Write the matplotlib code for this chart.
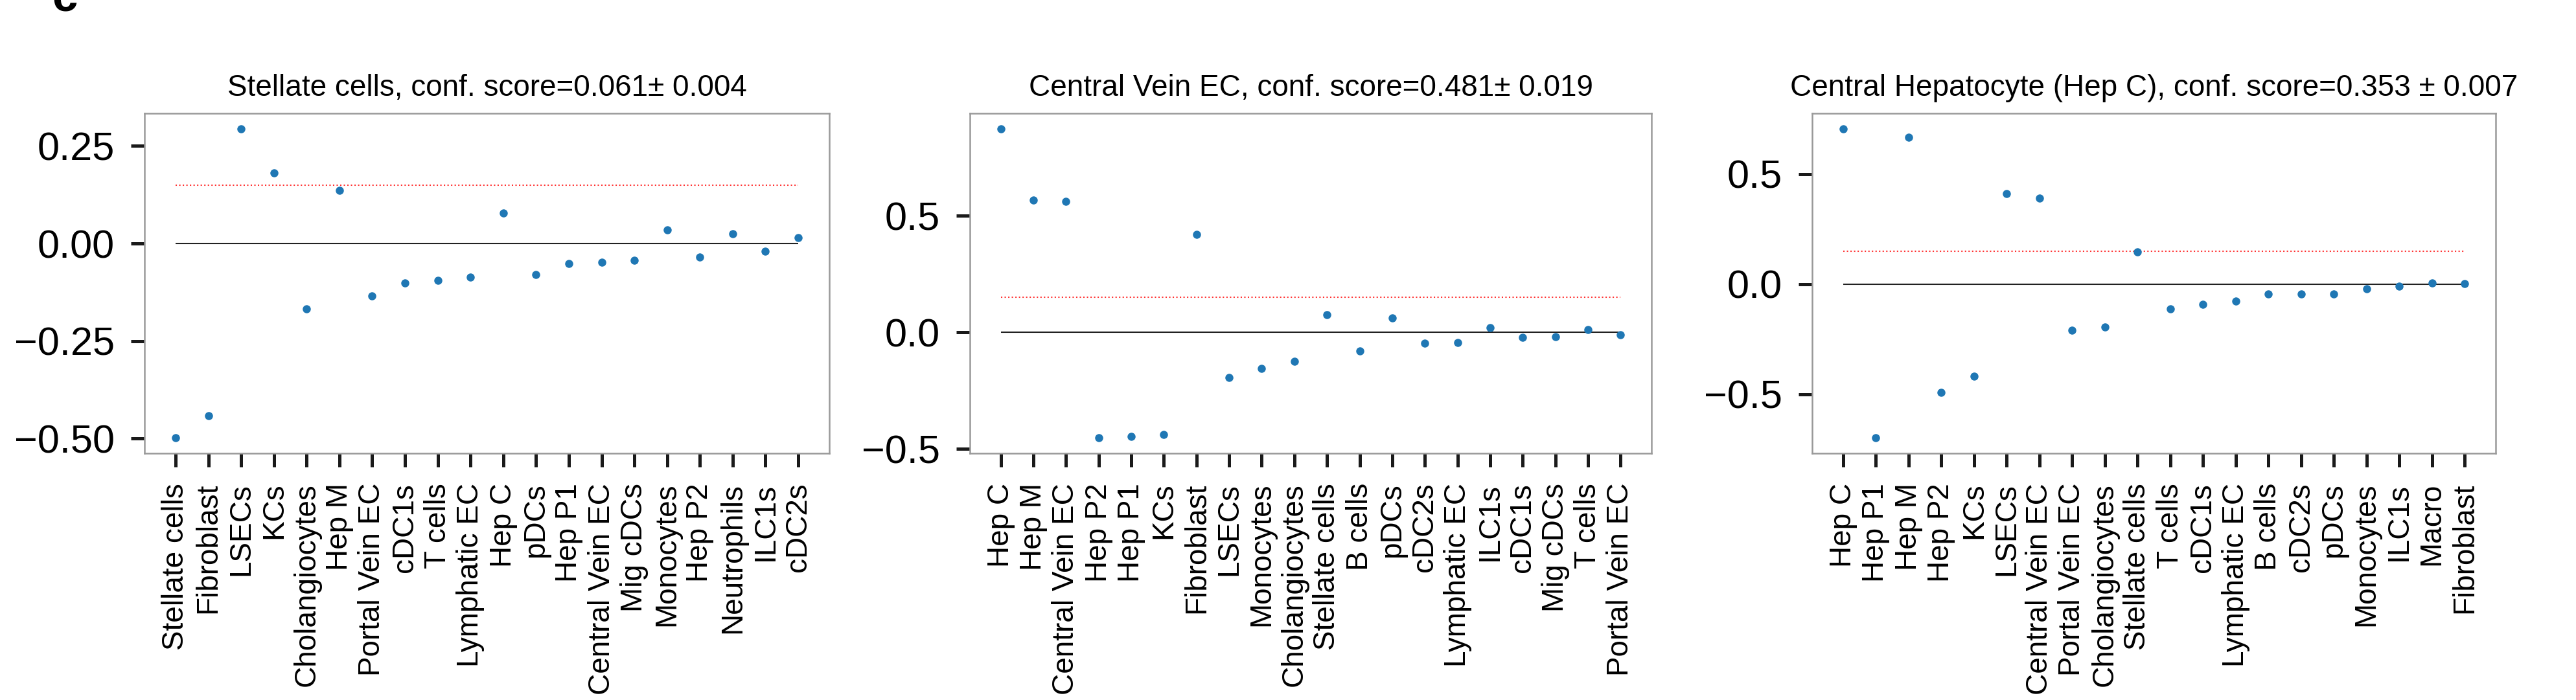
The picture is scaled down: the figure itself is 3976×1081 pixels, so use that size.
import matplotlib
matplotlib.use("Agg")
import matplotlib.pyplot as plt

plt.rcParams['font.family'] = ['Liberation Sans', 'DejaVu Sans']

# ---- data ----
titles = [
    "Stellate cells, conf. score=0.061\u00b1 0.004",
    "Central Vein EC, conf. score=0.481\u00b1 0.019",
    "Central Hepatocyte (Hep C), conf. score=0.353 \u00b1 0.007",
]

cats1 = ["Stellate cells", "Fibroblast", "LSECs", "KCs", "Cholangiocytes", "Hep M",
         "Portal Vein EC", "cDC1s", "T cells", "Lymphatic EC", "Hep C", "pDCs",
         "Hep P1", "Central Vein EC", "Mig cDCs", "Monocytes", "Hep P2",
         "Neutrophils", "ILC1s", "cDC2s"]
vals1 = [-0.498, -0.441, 0.294, 0.181, -0.168, 0.136, -0.135, -0.102, -0.095,
         -0.087, 0.078, -0.079, -0.051, -0.048, -0.043, 0.035, -0.034, 0.025,
         -0.020, 0.015]

cats2 = ["Hep C", "Hep M", "Central Vein EC", "Hep P2", "Hep P1", "KCs",
         "Fibroblast", "LSECs", "Monocytes", "Cholangiocytes", "Stellate cells",
         "B cells", "pDCs", "cDC2s", "Lymphatic EC", "ILC1s", "cDC1s",
         "Mig cDCs", "T cells", "Portal Vein EC"]
vals2 = [0.874, 0.569, 0.562, -0.452, -0.445, -0.438, 0.422, -0.192, -0.153,
         -0.125, 0.075, -0.079, 0.062, -0.046, -0.044, 0.021, -0.021, -0.019,
         0.012, -0.010]

cats3 = ["Hep C", "Hep P1", "Hep M", "Hep P2", "KCs", "LSECs", "Central Vein EC",
         "Portal Vein EC", "Cholangiocytes", "Stellate cells", "T cells", "cDC1s",
         "Lymphatic EC", "B cells", "cDC2s", "pDCs", "Monocytes", "ILC1s",
         "Macro", "Fibroblast"]
vals3 = [0.705, -0.698, 0.666, -0.491, -0.419, 0.411, 0.390, -0.209, -0.195,
         0.145, -0.113, -0.091, -0.076, -0.045, -0.044, -0.044, -0.022, -0.011,
         0.004, 0.003]

threshold = 0.15

panels = [(cats1, vals1), (cats2, vals2), (cats3, vals3)]

# ---- figure ----
W, H = 3976, 1081
dpi = 300
fig = plt.figure(figsize=(W / dpi, H / dpi), dpi=dpi)

lefts = [223, 1497, 2797]
widths = [1057, 1052, 1055]
top_px, bot_px = 175, 700

for i, (cats, vals) in enumerate(panels):
    ax = fig.add_axes([lefts[i] / W, 1 - bot_px / H, widths[i] / W, (bot_px - top_px) / H])
    x = list(range(len(cats)))
    ax.hlines(0, 0, len(cats) - 1, color='#222222', lw=0.5, zorder=1)
    ax.hlines(threshold, 0, len(cats) - 1, color='red', lw=0.5, ls=':', alpha=0.8, zorder=1)
    ax.scatter(x, vals, s=9, color='#1f77b4', zorder=3, linewidths=0)
    ax.set_xticks(x)
    ax.set_xticklabels(cats, rotation=90, fontsize=11)
    ax.tick_params(axis='y', labelsize=14.7, length=5, width=1.2, pad=6, color='#1a1a1a')
    ax.tick_params(axis='x', length=5, width=1.2, pad=6, color='#1a1a1a')
    if i == 0:
        ax.set_yticks([-0.5, -0.25, 0.0, 0.25])
    else:
        ax.set_yticks([-0.5, 0.0, 0.5])
    for sp in ax.spines.values():
        sp.set_color('#999999')
        sp.set_linewidth(0.6)
    ax.set_title(titles[i], fontsize=11, pad=6.5)

fig.text(80 / W, 1 - 18 / H, "c", fontsize=17, fontweight='bold', ha='left', va='baseline')

fig.savefig("out.png", dpi=dpi)
